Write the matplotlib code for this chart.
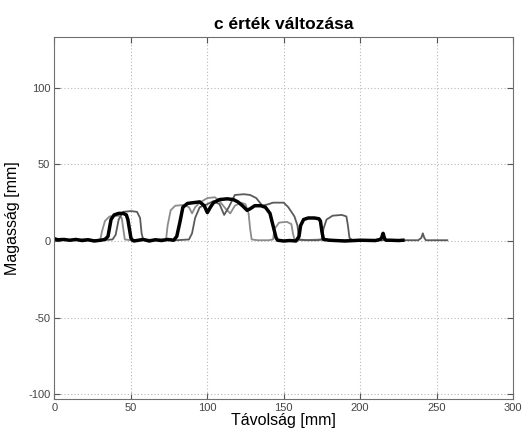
import matplotlib
matplotlib.use("Agg")
import matplotlib.pyplot as plt

plt.rcParams['font.family'] = ['Liberation Sans', 'DejaVu Sans']
plt.rcParams['axes.unicode_minus'] = False

# three measured profiles (x in mm, height in mm)
light_pts = [(0, 1), (10, 0.5), (20, 1), (28, 0.5), (30, 1), (31, 6), (33, 13), (36, 16),
             (42, 16.5), (44, 15), (45, 8), (46, 1), (50, 0.5), (60, 1), (70, 0.5), (73, 1),
             (74, 10), (76, 20), (79, 23), (85, 23.5), (88, 22), (90, 18), (92, 22), (95, 25),
             (100, 28), (105, 28.5), (108, 26), (112, 21), (115, 18), (118, 23), (122, 25),
             (125, 24), (127, 18), (128, 8), (129, 1), (133, 0.5), (140, 0.5), (143, 1),
             (144, 8), (147, 12), (152, 12.5), (155, 11), (156, 5), (157, 1), (162, 0.5),
             (175, 1), (185, 0.5), (195, 0.5), (200, 0.5)]

dark_pts = [(0, 1), (10, 0.5), (20, 1), (30, 0.5), (38, 1), (40, 4), (42, 14), (45, 19),
            (50, 19.5), (54, 19), (56, 15), (57, 5), (58, 1), (62, 0.5), (70, 1), (80, 0.5),
            (88, 1), (90, 5), (92, 15), (95, 22), (100, 24), (104, 26), (108, 24), (111, 17),
            (114, 22), (118, 30), (124, 30.5), (128, 30), (132, 28), (136, 23), (140, 24),
            (143, 25), (150, 25), (153, 22), (157, 16), (159, 10), (160, 1), (165, 0.5),
            (172, 0.5), (175, 1), (176, 8), (178, 14), (182, 16.5), (188, 17), (191, 16),
            (192, 10), (193, 2), (195, 0.5), (210, 0.5), (225, 0.5), (238, 0.5), (240, 2),
            (241, 5), (242, 2), (243, 0.5), (257, 0.5)]

black_pts = [(0, 1.5), (2, 0.8), (6, 1), (10, 0.5), (14, 1), (18, 0.3), (22, 0.8), (26, 0),
             (30, 0.5), (33, 1), (35, 3), (37, 14), (39, 17), (42, 18), (45, 18), (47, 17),
             (48, 14), (49, 8), (50, 2), (51, 0.5), (52, 0), (55, 0.5), (58, 1), (62, 0),
             (66, 0.8), (70, 0.3), (74, 1), (78, 0.5), (80, 3), (82, 12), (84, 22), (87, 24.5),
             (91, 25), (95, 25.5), (98, 23), (100, 18.5), (102, 22), (104, 25), (108, 27),
             (113, 27.5), (117, 27), (120, 25.5), (123, 23), (126, 20), (128, 21), (131, 23),
             (135, 23), (138, 22), (141, 18), (143, 10), (145, 2), (146, 0.5), (150, 0),
             (154, 0.3), (158, 0), (160, 3), (161, 10), (163, 14), (166, 15), (170, 15),
             (173, 14.5), (174, 13), (175, 6), (176, 1), (180, 0.5), (190, 0), (200, 0.5),
             (210, 0.3), (213, 1), (214, 2), (215, 5), (216, 1.5), (217, 0.5), (220, 0.5),
             (225, 0.3), (228, 0.5)]

xlim = (0, 300)
ylim = (-103, 133)
xticks = [0, 50, 100, 150, 200, 250, 300]
yticks = [-100, -50, 0, 50, 100]

fig = plt.figure(figsize=(5.24, 4.32), dpi=100)
ax = fig.add_axes([0.104, 0.0764, 0.875, 0.838])

for pts, col, lw in [(light_pts, '#8c8c8c', 1.3),
                     (dark_pts, '#5a5a5a', 1.3),
                     (black_pts, 'black', 2.5)]:
    xs = [p[0] for p in pts]
    ys = [p[1] for p in pts]
    ax.plot(xs, ys, color=col, lw=lw)

ax.set_xlim(xlim)
ax.set_ylim(ylim)
ax.set_xticks(xticks)
ax.set_yticks(yticks)
ax.grid(True, linestyle=(0, (1, 2)), color='#b8b8b8', lw=0.8)
ax.tick_params(direction='in', length=4, top=True, right=True, labelsize=8,
               colors='#555555', labelcolor='#444444', pad=3)
for s in ax.spines.values():
    s.set_color('#707070')

ax.set_title('c érték változása', fontsize=12.5, fontweight='bold', pad=6)
ax.set_xlabel('Távolság [mm]', fontsize=11.5, labelpad=0)
ax.set_ylabel('Magasság [mm]', fontsize=11.5, labelpad=6)

fig.savefig('out.png', dpi=100)
